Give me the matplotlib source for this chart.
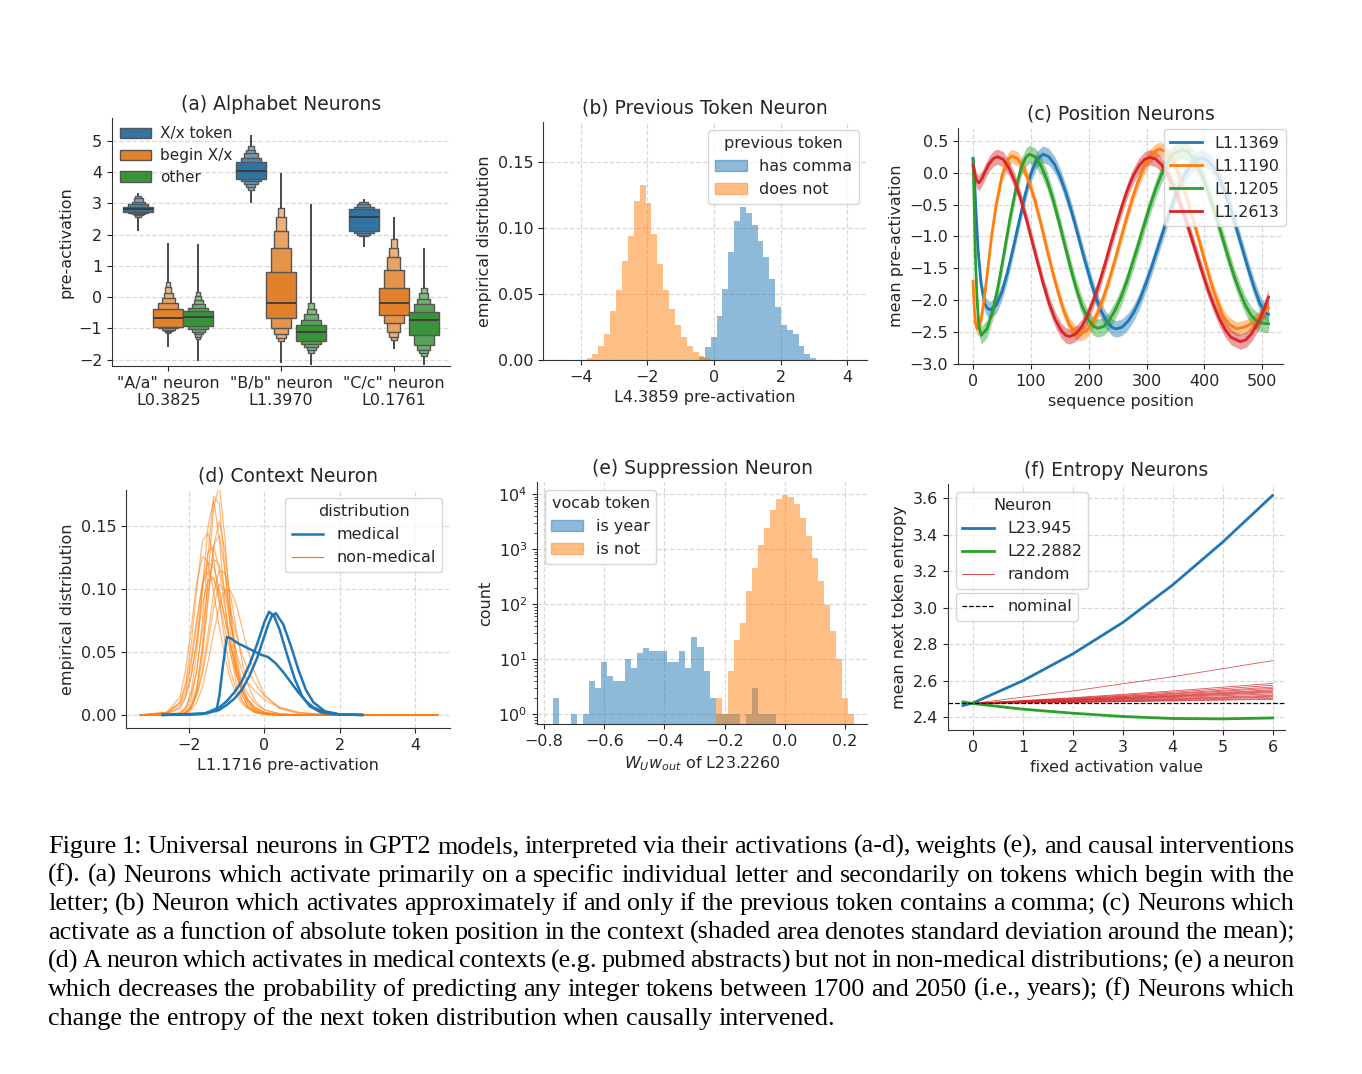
import numpy as np
import matplotlib
matplotlib.use('Agg')
import matplotlib.pyplot as plt
from matplotlib.colors import to_rgb
from matplotlib.patches import Patch
from matplotlib.lines import Line2D

# ---------------- (a) alphabet neurons (letter-value boxes)
alpha_groups = ['"A/a" neuron\nL0.3825', '"B/b" neuron\nL1.3970', '"C/c" neuron\nL0.1761']
alpha_hues = ['X/x token', 'begin X/x', 'other']
alpha_median = [[2.83, -0.65, -0.63],
                [4.03, -0.17, -1.12],
                [2.56, -0.17, -0.73]]
# inner -> outer (lo, hi) per group / hue
alpha_levels = [
    [[(2.74, 2.89), (2.70, 2.97), (2.66, 3.05), (2.62, 3.16), (2.58, 3.24)],
     [(-0.95, -0.38), (-1.00, -0.20), (-1.04, -0.03), (-1.08, 0.14), (-1.12, 0.32), (-1.15, 0.50)],
     [(-0.93, -0.43), (-1.01, -0.34), (-1.10, -0.22), (-1.18, -0.10), (-1.26, 0.05), (-1.33, 0.16)]],
    [[(3.79, 4.32), (3.70, 4.46), (3.62, 4.60), (3.53, 4.72), (3.43, 4.83)],
     [(-0.65, 0.80), (-0.97, 1.57), (-1.18, 2.12), (-1.30, 2.55), (-1.40, 2.85)],
     [(-1.39, -0.90), (-1.49, -0.73), (-1.60, -0.54), (-1.70, -0.37), (-1.80, -0.20)]],
    [[(2.12, 2.82), (2.04, 2.89), (1.99, 2.97), (1.95, 3.03)],
     [(-0.57, 0.31), (-0.84, 0.87), (-1.10, 1.27), (-1.26, 1.56), (-1.36, 1.85)],
     [(-1.20, -0.47), (-1.54, -0.22), (-1.68, -0.05), (-1.79, 0.13), (-1.88, 0.28)]],
]
alpha_tails = [[(2.13, 3.32), (-1.58, 1.72), (-2.03, 1.69)],
               [(3.02, 5.18), (-2.10, 3.98), (-2.16, 2.97)],
               [(1.62, 3.13), (-1.65, 2.57), (-2.16, 1.56)]]

# ---------------- (b) previous token neuron (density histograms)
prev_not_range = (-3.83, -0.11)
prev_not_density = [0.0018, 0.0043, 0.0106, 0.020, 0.037, 0.053, 0.0745, 0.094, 0.120, 0.1326, 0.119,
                    0.0955, 0.0727, 0.053, 0.0384, 0.0265, 0.0177, 0.0106, 0.0063, 0.0033, 0.0013]
prev_comma_range = (-0.45, 3.07)
prev_comma_density = [0.002, 0.010, 0.0177, 0.033, 0.0535, 0.0816, 0.105, 0.1157, 0.111, 0.102,
                      0.090, 0.078, 0.061, 0.040, 0.0265, 0.023, 0.020, 0.0106, 0.0043, 0.0013]

# ---------------- (c) position neurons
pos_names = ['L1.1369', 'L1.1190', 'L1.1205', 'L1.2613']
pos_x = [
    [0, 2, 5, 9, 14, 20, 25, 30, 40, 50, 60, 70, 80, 90, 100, 110, 121, 131, 141, 151, 161, 171, 181, 191,
     201, 211, 221, 231, 241, 248, 258, 268, 278, 288, 298, 308, 318, 328, 338, 348, 358, 368, 378, 388,
     396, 406, 416, 426, 436, 446, 456, 466, 476, 486, 496, 506, 511],
    [0, 2, 4, 7, 10, 14, 19, 25, 32, 40, 50, 60, 67, 77, 87, 97, 107, 117, 127, 137, 147, 157, 167, 177,
     185, 195, 205, 215, 225, 235, 245, 255, 265, 275, 285, 295, 305, 315, 323, 333, 343, 353, 363, 373,
     383, 393, 403, 413, 423, 433, 443, 456, 470, 485, 500, 511],
    [0, 2, 4, 7, 10, 14, 24, 34, 44, 54, 64, 74, 84, 92, 98, 108, 118, 128, 138, 148, 158, 168, 178, 188,
     198, 208, 216, 226, 236, 246, 256, 266, 276, 286, 296, 306, 316, 326, 336, 346, 361, 371, 381, 391,
     401, 411, 421, 431, 441, 451, 461, 471, 481, 491, 500, 511],
    [0, 3, 6, 10, 15, 21, 28, 35, 42, 52, 62, 72, 82, 92, 102, 112, 122, 132, 142, 152, 160, 167, 177, 187,
     197, 207, 217, 227, 237, 247, 257, 267, 277, 287, 297, 306, 316, 326, 336, 346, 356, 366, 376, 386,
     396, 406, 416, 426, 436, 446, 462, 472, 482, 492, 502, 511],
]
pos_mean = [
    [0.22, 0.0, -0.6, -1.25, -1.75, -2.05, -2.13, -2.15, -2.08, -1.87, -1.55, -1.16, -0.75, -0.35, -0.02,
     0.2, 0.29, 0.25, 0.13, -0.07, -0.33, -0.63, -0.96, -1.3, -1.62, -1.92, -2.16, -2.33, -2.43, -2.45,
     -2.42, -2.33, -2.19, -2.0, -1.76, -1.5, -1.22, -0.94, -0.66, -0.41, -0.18, 0.0, 0.13, 0.21, 0.23,
     0.19, 0.09, -0.09, -0.32, -0.59, -0.89, -1.2, -1.51, -1.8, -2.05, -2.2, -2.22],
    [-1.7, -2.1, -2.35, -2.45, -2.42, -2.3, -2.0, -1.55, -1.0, -0.5, -0.05, 0.2, 0.26, 0.22, 0.08, -0.15,
     -0.44, -0.79, -1.17, -1.54, -1.87, -2.17, -2.39, -2.5, -2.53, -2.49, -2.38, -2.21, -1.97, -1.69,
     -1.38, -1.05, -0.72, -0.42, -0.15, 0.07, 0.245, 0.34, 0.37, 0.33, 0.22, 0.03, -0.22, -0.5, -0.81,
     -1.13, -1.46, -1.77, -2.03, -2.26, -2.38, -2.45, -2.42, -2.35, -2.22, -2.12],
    [0.22, -0.5, -1.3, -2.0, -2.4, -2.55, -2.45, -2.17, -1.75, -1.24, -0.71, -0.25, 0.1, 0.25, 0.29, 0.24,
     0.1, -0.12, -0.41, -0.75, -1.11, -1.47, -1.8, -2.08, -2.28, -2.41, -2.44, -2.41, -2.31, -2.15, -1.95,
     -1.7, -1.41, -1.12, -0.81, -0.52, -0.25, -0.02, 0.16, 0.29, 0.36, 0.33, 0.22, 0.06, -0.16, -0.42,
     -0.71, -1.01, -1.32, -1.61, -1.86, -2.08, -2.24, -2.33, -2.36, -2.37],
    [0.12, -0.02, -0.12, -0.16, -0.1, 0.02, 0.14, 0.22, 0.25, 0.21, 0.075, -0.13, -0.4, -0.72, -1.07,
     -1.42, -1.76, -2.06, -2.3, -2.47, -2.55, -2.57, -2.53, -2.43, -2.26, -2.03, -1.77, -1.47, -1.15,
     -0.84, -0.54, -0.27, -0.05, 0.11, 0.21, 0.24, 0.21, 0.125, -0.02, -0.21, -0.43, -0.69, -0.97, -1.26,
     -1.55, -1.83, -2.07, -2.29, -2.46, -2.58, -2.65, -2.62, -2.52, -2.37, -2.17, -1.95],
]
pos_std = [0.13, 0.11, 0.14, 0.12]

# ---------------- (d) context neuron
med_x = [
    [-2.7, -2.0, -1.6, -1.45, -1.35, -1.28, -1.2, -1.1, -1.0, -0.9, -0.7, -0.5, -0.3, -0.1, 0.1, 0.3,
     0.5, 0.7, 0.9, 1.1, 1.3, 1.6, 2.0, 2.6],
    [-2.7, -1.6, -1.2, -1.0, -0.8, -0.6, -0.4, -0.2, -0.1, 0.0, 0.12, 0.25, 0.4, 0.6, 0.8, 1.0, 1.2, 1.5, 2.0, 2.6],
    [-2.7, -1.6, -1.2, -1.0, -0.8, -0.6, -0.4, -0.2, -0.1, 0.0, 0.1, 0.2, 0.3, 0.5, 0.7, 0.9, 1.1, 1.3, 1.6, 2.0, 2.6],
]
med_y = [
    [0, 0.0003, 0.001, 0.002, 0.0035, 0.003, 0.015, 0.04, 0.062, 0.061, 0.057, 0.054, 0.051, 0.048,
     0.046, 0.041, 0.034, 0.026, 0.018, 0.011, 0.006, 0.002, 0.0004, 0],
    [0, 0.001, 0.006, 0.011, 0.018, 0.027, 0.04, 0.056, 0.065, 0.074, 0.082, 0.079, 0.068, 0.048, 0.029,
     0.015, 0.007, 0.002, 0.0003, 0],
    [0, 0.001, 0.004, 0.008, 0.013, 0.02, 0.031, 0.045, 0.054, 0.063, 0.072, 0.079, 0.081, 0.072, 0.055,
     0.036, 0.02, 0.01, 0.003, 0.0004, 0],
]
nonmed_x = [-3.3, -2.6, -2.25, -2.1, -1.95, -1.8, -1.65, -1.5, -1.35, -1.2, -1.05, -0.9, -0.75, -0.6,
            -0.45, -0.25, 0.0, 0.4, 0.9, 1.5, 2.5, 4.6]
nonmed_y = [
    [0, 0, 0.001, 0.004, 0.012, 0.035, 0.075, 0.128, 0.174, 0.168, 0.115, 0.065, 0.033, 0.016, 0.008, 0.003, 0.001, 0, 0, 0, 0, 0],
    [0, 0, 0.001, 0.005, 0.018, 0.05, 0.1, 0.15, 0.171, 0.14, 0.09, 0.05, 0.025, 0.012, 0.006, 0.002, 0.0005, 0, 0, 0, 0, 0],
    [0, 0.001, 0.01, 0.025, 0.055, 0.1, 0.138, 0.145, 0.125, 0.09, 0.058, 0.035, 0.02, 0.011, 0.006, 0.003, 0.001, 0, 0, 0, 0, 0],
    [0, 0, 0, 0.002, 0.006, 0.018, 0.045, 0.09, 0.135, 0.154, 0.13, 0.085, 0.048, 0.025, 0.012, 0.005, 0.002, 0, 0, 0, 0, 0],
    [0, 0.001, 0.005, 0.013, 0.03, 0.06, 0.1, 0.13, 0.134, 0.115, 0.085, 0.055, 0.033, 0.019, 0.01, 0.004, 0.001, 0, 0, 0, 0, 0],
    [0, 0.002, 0.008, 0.018, 0.04, 0.072, 0.105, 0.121, 0.118, 0.1, 0.077, 0.055, 0.036, 0.022, 0.013, 0.006, 0.002, 0.0005, 0, 0, 0, 0],
    [0, 0.002, 0.01, 0.022, 0.045, 0.076, 0.104, 0.114, 0.108, 0.09, 0.068, 0.048, 0.032, 0.02, 0.012, 0.006, 0.002, 0, 0, 0, 0, 0],
    [0, 0, 0, 0.002, 0.006, 0.016, 0.035, 0.065, 0.097, 0.115, 0.113, 0.095, 0.068, 0.043, 0.025, 0.011, 0.004, 0.001, 0, 0, 0, 0],
    [0, 0, 0, 0.001, 0.004, 0.01, 0.022, 0.042, 0.065, 0.087, 0.099, 0.099, 0.088, 0.07, 0.052, 0.033, 0.016, 0.005, 0.001, 0, 0, 0],
    [0, 0, 0.002, 0.006, 0.016, 0.036, 0.068, 0.103, 0.124, 0.12, 0.098, 0.072, 0.05, 0.035, 0.026, 0.019, 0.012, 0.006, 0.002, 0.0005, 0, 0],
    [0, 0.001, 0.006, 0.015, 0.032, 0.058, 0.088, 0.107, 0.109, 0.096, 0.076, 0.056, 0.039, 0.026, 0.017, 0.009, 0.004, 0.001, 0, 0, 0, 0],
    [0, 0, 0.0005, 0.002, 0.008, 0.022, 0.052, 0.095, 0.135, 0.143, 0.115, 0.075, 0.042, 0.021, 0.01, 0.004, 0.001, 0, 0, 0, 0, 0],
    [0, 0, 0, 0.002, 0.006, 0.015, 0.032, 0.058, 0.085, 0.104, 0.1, 0.083, 0.064, 0.048, 0.036, 0.025, 0.015, 0.006, 0.002, 0.0005, 0, 0],
    [0, 0.002, 0.014, 0.035, 0.068, 0.105, 0.126, 0.122, 0.098, 0.07, 0.046, 0.028, 0.016, 0.009, 0.005, 0.002, 0.0005, 0, 0, 0, 0, 0],
    [0, 0, 0, 0.001, 0.005, 0.02, 0.055, 0.11, 0.165, 0.183, 0.14, 0.08, 0.038, 0.016, 0.007, 0.002, 0.0005, 0, 0, 0, 0, 0],
]

# ---------------- (e) suppression neuron (counts, bins of 0.02)
year_range = (-0.77, -0.03)
year_counts = [2, 0, 0, 1, 0, 1, 4, 3, 9, 5, 4, 4, 10, 7, 13, 16, 14, 14, 14, 9,
               9, 14, 7, 25, 17, 6, 2, 1, 1, 1, 1, 0, 1, 3, 1, 1, 1]
notyear_range = (-0.23, 0.23)
notyear_counts = [2, 1, 6, 22, 45, 173, 450, 1180, 2390, 5100, 8300, 9800, 8900, 6500, 3700,
                  1730, 700, 263, 96, 33, 10, 2, 1]

# ---------------- (f) entropy neurons
ent_x = [-0.2, 0, 1, 2, 3, 4, 5, 6]
ent_l23_945 = [2.464, 2.478, 2.600, 2.747, 2.919, 3.125, 3.359, 3.615]
ent_l22_2882 = [2.484, 2.475, 2.444, 2.422, 2.404, 2.393, 2.391, 2.396]
rand_x = [0, 2, 4, 6]
rand_y = [
    [2.476, 2.544, 2.622, 2.710], [2.476, 2.507, 2.544, 2.585], [2.476, 2.504, 2.537, 2.575],
    [2.476, 2.501, 2.531, 2.565], [2.476, 2.499, 2.527, 2.558], [2.476, 2.496, 2.522, 2.550],
    [2.476, 2.495, 2.518, 2.545], [2.476, 2.493, 2.515, 2.540], [2.476, 2.492, 2.512, 2.535],
    [2.476, 2.490, 2.508, 2.528], [2.476, 2.487, 2.503, 2.520], [2.476, 2.486, 2.499, 2.515],
    [2.476, 2.484, 2.496, 2.510], [2.476, 2.482, 2.492, 2.503], [2.476, 2.481, 2.489, 2.498],
]
nominal_entropy = 2.476

caption = [
    "Figure 1: Universal neurons in GPT2 models, interpreted via their activations (a-d), weights (e), and causal interventions",
    "(f). (a) Neurons which activate primarily on a specific individual letter and secondarily on tokens which begin with the",
    "letter; (b) Neuron which activates approximately if and only if the previous token contains a comma; (c) Neurons which",
    "activate as a function of absolute token position in the context (shaded area denotes standard deviation around the mean);",
    "(d) A neuron which activates in medical contexts (e.g. pubmed abstracts) but not in non-medical distributions; (e) a neuron",
    "which decreases the probability of predicting any integer tokens between 1700 and 2050 (i.e., years); (f) Neurons which",
    "change the entropy of the next token distribution when causally intervened.",
]

# ---------------- style
plt.rcParams['font.family'] = 'DejaVu Sans'
plt.rcParams['font.size'] = 11.5
plt.rcParams['axes.titlesize'] = 13.5
plt.rcParams['axes.labelsize'] = 11.5
plt.rcParams['xtick.labelsize'] = 11.5
plt.rcParams['ytick.labelsize'] = 11.5
plt.rcParams['legend.fontsize'] = 11.5
plt.rcParams['legend.title_fontsize'] = 11.5
plt.rcParams['text.color'] = '#262626'
plt.rcParams['axes.labelcolor'] = '#262626'
plt.rcParams['xtick.color'] = '#262626'
plt.rcParams['ytick.color'] = '#262626'
plt.rcParams['axes.edgecolor'] = '#333333'

tab = plt.rcParams['axes.prop_cycle'].by_key()['color']
box_colors = ['#3274a1', '#e1812c', '#3a923a']


def tidy(ax, grid='both'):
    ax.spines['top'].set_visible(False)
    ax.spines['right'].set_visible(False)
    ax.set_axisbelow(True)
    ax.grid(True, axis=grid, ls='--', color='#d8d8d8', lw=0.9)


fig = plt.figure(figsize=(13.62, 10.74), dpi=100)
W, H = 1362, 1074


def add_ax(l, r, t, b):
    return fig.add_axes([l / W, 1 - b / H, (r - l) / W, (b - t) / H])


# (a)
ax = add_ax(112, 450, 118, 366)
slot = 0.8 / 3
frac = [1, 0.66, 0.44, 0.3, 0.2, 0.14]
light = [0, 0.15, 0.27, 0.37, 0.45, 0.52]
for g in range(3):
    for h in range(3):
        x = g + (h - 1) * slot
        base = np.array(to_rgb(box_colors[h]))
        lo_t, hi_t = alpha_tails[g][h]
        ax.vlines(x, lo_t, hi_t, color='#3a3a3a', lw=1.3, zorder=2)
        levels = alpha_levels[g][h]
        for k in range(len(levels) - 1, -1, -1):
            lo, hi = levels[k]
            col = base + (1 - base) * light[k]
            ax.bar(x, hi - lo, bottom=lo, width=slot * frac[k], color=col,
                   edgecolor='#555555', linewidth=1, zorder=3)
        ax.hlines(alpha_median[g][h], x - slot / 2, x + slot / 2, color='#3a3a3a', lw=1.3, zorder=4)
ax.set_xlim(-0.5, 2.5)
ax.set_ylim(-2.2, 5.73)
ax.set_xticks(range(3))
ax.set_xticklabels(alpha_groups)
ax.set_yticks(range(-2, 6))
ax.set_ylabel('pre-activation')
ax.set_title('(a) Alphabet Neurons')
tidy(ax, 'y')
ax.legend([Patch(facecolor=c, edgecolor='#555555') for c in box_colors], alpha_hues,
          loc='upper left', frameon=False, borderaxespad=0.15, handlelength=2.0,
          handletextpad=0.6, fontsize=11, labelspacing=0.45)

# (b)
ax = add_ax(543, 867, 122, 360)
e_not = np.linspace(prev_not_range[0], prev_not_range[1], len(prev_not_density) + 1)
e_com = np.linspace(prev_comma_range[0], prev_comma_range[1], len(prev_comma_density) + 1)
ax.bar(e_com[:-1], prev_comma_density, width=np.diff(e_com), align='edge', color=tab[0], alpha=0.5, lw=0)
ax.bar(e_not[:-1], prev_not_density, width=np.diff(e_not), align='edge', color=tab[1], alpha=0.5, lw=0)
ax.set_xlim(-5.14, 4.6)
ax.set_ylim(0, 0.18)
ax.set_xticks([-4, -2, 0, 2, 4])
ax.set_yticks([0, 0.05, 0.10, 0.15])
ax.set_xlabel('L4.3859 pre-activation')
ax.set_ylabel('empirical distribution')
ax.set_title('(b) Previous Token Neuron')
tidy(ax)
ax.legend([Patch(color=tab[0], alpha=0.5), Patch(color=tab[1], alpha=0.5)], ['has comma', 'does not'],
          title='previous token', loc='upper right')

# (c)
ax = add_ax(958, 1283, 128, 364)
for i in range(4):
    xs = np.array(pos_x[i])
    ys = np.array(pos_mean[i])
    ax.fill_between(xs, ys - pos_std[i], ys + pos_std[i], color=tab[i], alpha=0.45, lw=0)
    ax.plot(xs, ys, color=tab[i], lw=2, label=pos_names[i])
ax.set_xlim(-26, 536)
ax.set_ylim(-3.0, 0.7)
ax.set_xticks([0, 100, 200, 300, 400, 500])
ax.set_yticks([0.5, 0.0, -0.5, -1.0, -1.5, -2.0, -2.5, -3.0])
ax.set_xlabel('sequence position')
ax.set_ylabel('mean pre-activation')
ax.set_title('(c) Position Neurons')
tidy(ax)
ax.legend(loc='upper right', bbox_to_anchor=(1.01, 0.995), borderaxespad=0.0)

# (d)
ax = add_ax(126, 450, 490, 728)
for ys in nonmed_y:
    ax.plot(nonmed_x, ys, color=tab[1], lw=0.9, alpha=0.55)
for xs, ys in zip(med_x, med_y):
    ax.plot(xs, ys, color=tab[0], lw=1.8)
ax.set_xlim(-3.68, 4.93)
ax.set_ylim(-0.0104, 0.179)
ax.set_xticks([-2, 0, 2, 4])
ax.set_yticks([0, 0.05, 0.10, 0.15])
ax.set_xlabel('L1.1716 pre-activation')
ax.set_ylabel('empirical distribution')
ax.set_title('(d) Context Neuron')
tidy(ax)
ax.legend([Line2D([], [], color=tab[0], lw=1.8), Line2D([], [], color=tab[1], lw=0.9)],
          ['medical', 'non-medical'], title='distribution', loc='upper right')

# (e)
ax = add_ax(537, 867, 482, 724)
e_year = np.linspace(year_range[0], year_range[1], len(year_counts) + 1)
e_nyr = np.linspace(notyear_range[0], notyear_range[1], len(notyear_counts) + 1)
ax.bar(e_year[:-1], year_counts, width=np.diff(e_year), align='edge', color=tab[0], alpha=0.5, lw=0)
ax.bar(e_nyr[:-1], notyear_counts, width=np.diff(e_nyr), align='edge', color=tab[1], alpha=0.5, lw=0)
ax.set_yscale('log')
ax.set_xlim(-0.823, 0.273)
ax.set_ylim(10 ** -0.176, 10 ** 4.22)
ax.set_xticks([-0.8, -0.6, -0.4, -0.2, 0.0, 0.2])
ax.set_xlabel(r'$W_Uw_{out}$ of L23.2260')
ax.set_ylabel('count')
ax.set_title('(e) Suppression Neuron')
tidy(ax)
ax.legend([Patch(color=tab[0], alpha=0.5), Patch(color=tab[1], alpha=0.5)], ['is year', 'is not'],
          title='vocab token', loc='upper left')

# (f)
ax = add_ax(948, 1285, 484, 730)
for ys in rand_y:
    ax.plot(rand_x, ys, color=tab[3], lw=0.6, alpha=0.8)
ax.plot(ent_x, ent_l23_945, color=tab[0], lw=2)
ax.plot(ent_x, ent_l22_2882, color=tab[2], lw=2)
ax.axhline(nominal_entropy, color='black', ls='--', lw=0.9)
ax.set_xlim(-0.5, 6.25)
ax.set_ylim(2.33, 3.678)
ax.set_xticks(range(7))
ax.set_yticks([2.4, 2.6, 2.8, 3.0, 3.2, 3.4, 3.6])
ax.set_xlabel('fixed activation value')
ax.set_ylabel('mean next token entropy')
ax.set_title('(f) Entropy Neurons')
tidy(ax)
leg1 = ax.legend([Line2D([], [], color=tab[0], lw=2), Line2D([], [], color=tab[2], lw=2),
                  Line2D([], [], color=tab[3], lw=0.6)], ['L23.945', 'L22.2882', 'random'],
                 title='Neuron', loc='upper left')
ax.add_artist(leg1)
ax.legend([Line2D([], [], color='black', ls='--', lw=0.9)], ['nominal'],
          loc='upper left', bbox_to_anchor=(0.0, 0.59))

# ---------------- caption, justified between x0 and x1
fig.canvas.draw()
rend = fig.canvas.get_renderer()
x0, x1 = 48, 1295
cap_size = 18.8
for i, line in enumerate(caption):
    yb = 1 - (853 + 28.6 * i) / H
    words = line.split(' ')
    texts = [fig.text(0, yb, w, fontsize=cap_size, family='Liberation Serif', va='baseline', color='black')
             for w in words]
    widths = [t.get_window_extent(rend).width for t in texts]
    if i < len(caption) - 1:
        gap = (x1 - x0 - sum(widths)) / (len(words) - 1)
    else:
        gap = cap_size * 100 / 72 * 0.25
    x = x0
    for t, w in zip(texts, widths):
        t.set_x(x / W)
        x += w + gap

fig.savefig('out.png', dpi=100, facecolor='white')
